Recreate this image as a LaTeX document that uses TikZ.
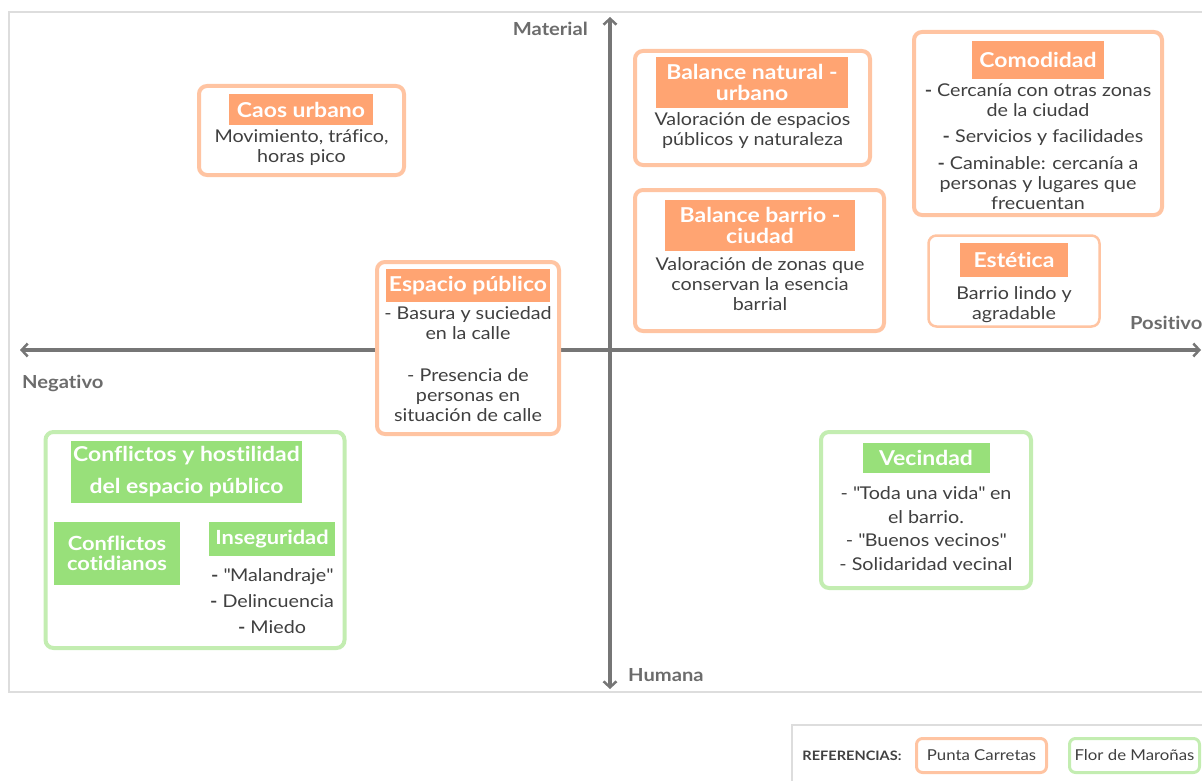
\documentclass[tikz,border=0pt]{standalone}
\usepackage{fontspec}
\setmainfont{Lato}[FakeStretch=1.12, Ligatures={TeX,NoCommon}]
\usetikzlibrary{arrows.meta}
\definecolor{obord}{HTML}{FFC4A2}
\definecolor{ofill}{HTML}{FFA472}
\definecolor{gbord}{HTML}{C3EDB1}
\definecolor{gfill}{HTML}{98E07A}
\definecolor{txt}{HTML}{404040}
\definecolor{axis}{HTML}{767676}
\definecolor{lbl}{HTML}{6C6C6C}
\definecolor{frame}{HTML}{DDDDDD}
\newcommand{\qq}{\textquotedbl}
\newcommand{\bd}{\textbf{-}}
\tikzset{
  obox/.style={draw=obord, line width=4pt, rounded corners=8pt, fill=white, inner sep=0pt},
  gbox/.style={draw=gbord, line width=4pt, rounded corners=8pt, fill=white, inner sep=0pt},
  otitle/.style={fill=ofill, text=white, font=\bfseries\fontsize{20.5}{21}\selectfont, align=center, inner sep=0pt},
  gtitle/.style={fill=gfill, text=white, font=\bfseries\fontsize{20.5}{21}\selectfont, align=center, inner sep=0pt},
  body/.style={text=txt, font=\fontsize{17.6}{20}\selectfont, align=center, inner sep=0pt},
  axlbl/.style={text=lbl, font=\bfseries\fontsize{18}{20}\selectfont, inner sep=0pt},
  axline/.style={draw=axis, line width=3.5pt, {Straight Barb[length=6pt,width=13pt,line width=2.5pt]}-{Straight Barb[length=6pt,width=13pt,line width=2.5pt]}},
}
\begin{document}
\begin{tikzpicture}[x=1pt,y=-1pt]
\useasboundingbox (0,0) rectangle (1202,781);
% frame
\draw[frame, line width=1.5pt] (1202,12) -- (9,12) -- (9,692) -- (1202,692);
% axes
\coordinate (axL) at (20,350);
\coordinate (axR) at (1201,350);
\coordinate (axT) at (610,17);
\coordinate (axB) at (610,689);
\draw[axline] (axL) -- (axR);
\draw[axline] (axB) -- (axT);
\node[axlbl, anchor=east] (mat) at (588,29) {Material};
\node[axlbl, anchor=west] (neg) at (22,383) {Negativo};
\node[axlbl, anchor=west] (pos) at (1130,323) {Positivo};
\node[axlbl, anchor=west] (hum) at (628,675) {Humana};

% Caos urbano
\node[obox, minimum width=205pt, minimum height=89pt] (caos) at (301.5,130.5) {};
\node[otitle, minimum width=144pt, minimum height=31pt] (caosT) at (301,109.5) {Caos urbano};
\node[body] (caosB) at (301.5,147.5) {Movimiento, tráfico,\\horas pico};

% Espacio publico
\node[obox, minimum width=182pt, minimum height=172pt] (esp) at (468,348) {};
\node[otitle, minimum width=164pt, minimum height=33pt] (espT) at (468,285.5) {Espacio público};
\node[body] (espB1) at (468,323) {- Basura y suciedad\\en la calle};
\node[body] (espB2) at (468,395) {- Presencia de\\personas en\\situación de calle};

% Balance natural
\node[obox, minimum width=235pt, minimum height=114pt] (bn) at (752.5,108) {};
\node[otitle, minimum width=192pt, minimum height=51pt] (bnT) at (752,82.5) {Balance natural -\\urbano};
\node[body] (bnB) at (752.5,131) {Valoración de espacios\\públicos y naturaleza};

% Balance barrio
\node[obox, minimum width=249pt, minimum height=141pt] (bb) at (759.5,260.5) {};
\node[otitle, minimum width=190pt, minimum height=51pt] (bbT) at (760,225.5) {Balance barrio -\\ciudad};
\node[body] (bbB) at (760,284) {Valoración de zonas que\\conservan la esencia\\barrial};

% Comodidad
\node[obox, minimum width=248pt, minimum height=183pt] (com) at (1038,123.5) {};
\node[otitle, minimum width=132pt, minimum height=38pt] (comT) at (1038,60) {Comodidad};
\node[body] (comB1) at (1038,100.5) {\bd{} Cercanía con otras zonas\\de la ciudad};
\node[body] (comB2) at (1043,138) {\bd{} Servicios y facilidades};
\node[body] (comB3) at (1038,183) {\bd{} Caminable: cercanía a\\personas y lugares que\\frecuentan};

% Estetica
\node[obox, line width=2.5pt, minimum width=171pt, minimum height=91pt] (est) at (1014,281) {};
\node[otitle, minimum width=108pt, minimum height=34pt] (estT) at (1014,260) {Estética};
\node[body] (estB) at (1014,305) {Barrio lindo y\\agradable};

% Conflictos
\node[gbox, minimum width=299pt, minimum height=216pt] (conf) at (195,540) {};
\node[gtitle, font=\bfseries\fontsize{20.5}{32}\selectfont, minimum width=231pt, minimum height=62pt] (confT) at (186.5,472) {Conflictos y hostilidad\\del espacio público};
\node[gtitle, font=\bfseries\fontsize{19.5}{20}\selectfont, minimum width=126pt, minimum height=63pt] (cot) at (117,553.5) {Conflictos\\cotidianos};
\node[gtitle, font=\bfseries\fontsize{19.5}{20}\selectfont, minimum width=126pt, minimum height=34pt] (ins) at (272,539) {Inseguridad};
\node[body, font=\fontsize{17.6}{26}\selectfont] (insB) at (272,601) {\bd{} \qq{}Malandraje\qq{}\\\bd{} Delincuencia\\\bd{} Miedo};

% Vecindad
\node[gbox, minimum width=210pt, minimum height=156pt] (vec) at (926,510) {};
\node[gtitle, minimum width=127pt, minimum height=30pt] (vecT) at (926,458) {Vecindad};
\node[body, font=\fontsize{17.6}{23.7}\selectfont] (vecB) at (926,528.5) {- \qq{}Toda una vida\qq{} en\\el barrio.\\- \qq{}Buenos vecinos\qq{}\\- Solidaridad vecinal};

% Legend
\draw[frame, line width=1.5pt] (1202,725) -- (792,725) -- (792,781);
\node[text=txt, font=\bfseries\fontsize{13}{15}\selectfont, inner sep=0pt] (ref) at (852,756) {REFERENCIAS:};
\node[draw=obord, line width=3pt, rounded corners=6pt, minimum width=130pt, minimum height=34pt, text=txt, font=\fontsize{15}{17}\selectfont, inner sep=0pt] (pc) at (981.5,755.5) {Punta Carretas};
\node[draw=gbord, line width=3pt, rounded corners=6pt, minimum width=130pt, minimum height=34pt, text=txt, font=\fontsize{15}{17}\selectfont, inner sep=0pt] (fm) at (1134.5,755.5) {Flor de Maroñas};
\end{tikzpicture}
\end{document}
